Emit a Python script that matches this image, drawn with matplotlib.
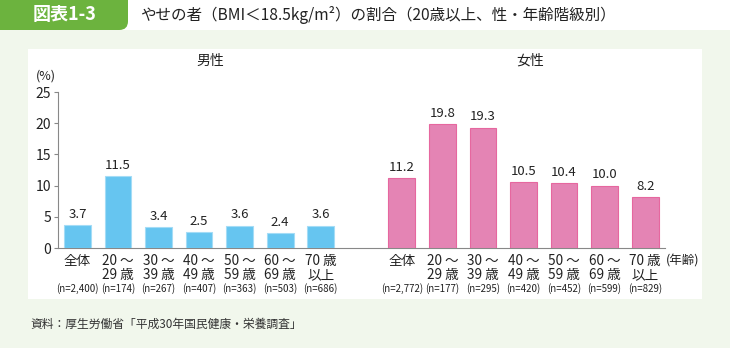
import matplotlib
matplotlib.use("Agg")
import matplotlib.pyplot as plt
from matplotlib.patches import Rectangle, FancyBboxPatch

plt.rcParams['font.family'] = ['Noto Sans CJK JP', 'DejaVu Sans']

categories_l1 = ["全体", "20 ～", "30 ～", "40 ～", "50 ～", "60 ～", "70 歳"]
categories_l2 = ["", "29 歳", "39 歳", "49 歳", "59 歳", "69 歳", "以上"]
male_n = ["(n=2,400)", "(n=174)", "(n=267)", "(n=407)", "(n=363)", "(n=503)", "(n=686)"]
female_n = ["(n=2,772)", "(n=177)", "(n=295)", "(n=420)", "(n=452)", "(n=599)", "(n=829)"]
male_values = [3.7, 11.5, 3.4, 2.5, 3.6, 2.4, 3.6]
female_values = [11.2, 19.8, 19.3, 10.5, 10.4, 10.0, 8.2]
yticks = [0, 5, 10, 15, 20, 25]

W, H = 730, 348
fig = plt.figure(figsize=(W / 100, H / 100), dpi=100)
fig.patch.set_facecolor('#f1f7ec')

def fx(px):
    return px / W

def fy(py):
    return 1 - py / H

# top white strip
fig.patches.append(Rectangle((0, fy(30)), 1, 30 / H, transform=fig.transFigure,
                             facecolor='white', edgecolor='none', zorder=0))
# green tab
fig.patches.append(FancyBboxPatch((fx(-10), fy(30)), fx(138), 30 / H * 1.4,
                                  boxstyle="round,pad=0,rounding_size=0.012",
                                  transform=fig.transFigure, facecolor='#6cb33e',
                                  edgecolor='none', zorder=1, mutation_aspect=W / H))
# cover bottom part of tab rounding below strip
fig.patches.append(Rectangle((0, fy(48)), 1, 18 / H, transform=fig.transFigure,
                             facecolor='#f1f7ec', edgecolor='none', zorder=2))
# white panel
fig.patches.append(Rectangle((fx(28), fy(299)), fx(674), 250 / H, transform=fig.transFigure,
                             facecolor='white', edgecolor='none', zorder=2))

fig.text(fx(65), fy(15), "図表1-3", color='white', fontsize=13, fontweight='bold',
         ha='center', va='center', zorder=5)
fig.text(fx(140), fy(15), "やせの者（BMI＜18.5kg/m²）の割合（20歳以上、性・年齢階級別）",
         color='#222222', fontsize=11.2, ha='left', va='center', zorder=5)
fig.text(fx(30), fy(324), "資料：厚生労働省「平成30年国民健康・栄養調査」",
         color='#333333', fontsize=8.5, ha='left', va='center', zorder=5)

ax = fig.add_axes([fx(58), fy(248), fx(665 - 58), (248 - 92) / H])
ax.set_facecolor('none')
ax.set_zorder(3)

male_x = list(range(7))
female_x = [i + 8 for i in range(7)]

ax.bar(male_x, male_values, width=0.66, color='#66c5f0', edgecolor='#a4dcf6', linewidth=0.8, zorder=3)
ax.bar(female_x, female_values, width=0.66, color='#e484b4', edgecolor='#e6679f', linewidth=0.8, zorder=3)

for x, v in zip(male_x, male_values):
    ax.annotate(f"{v:.1f}", (x, v), xytext=(0, 3), textcoords='offset points',
                ha='center', va='bottom', fontsize=9.5, color='#222222')
for x, v in zip(female_x, female_values):
    ax.annotate(f"{v:.1f}", (x, v), xytext=(0, 3), textcoords='offset points',
                ha='center', va='bottom', fontsize=9.5, color='#222222')

ax.set_xlim(-0.48, 14.49)
ax.set_ylim(0, 25)
ax.set_yticks(yticks)
ax.set_yticklabels([str(t) for t in yticks], fontsize=10, color='#222222')
ax.set_xticks([])
for s in ['top', 'right']:
    ax.spines[s].set_visible(False)
ax.spines['left'].set_color('#888888')
ax.spines['bottom'].set_color('#888888')
ax.spines['left'].set_linewidth(0.8)
ax.spines['bottom'].set_linewidth(0.8)
ax.tick_params(axis='y', direction='out', length=3, width=0.8, color='#888888', pad=2)

tr = ax.get_xaxis_transform()
for xs, ns in ((male_x, male_n), (female_x, female_n)):
    for x, l1, l2, n in zip(xs, categories_l1, categories_l2, ns):
        ax.text(x, -0.083, l1, transform=tr, ha='center', va='center', fontsize=9.8, color='#222222')
        if l2:
            ax.text(x, -0.173, l2, transform=tr, ha='center', va='center', fontsize=9.8, color='#222222')
        ax.text(x, -0.263, n, transform=tr, ha='center', va='center', fontsize=7, color='#222222')

ax.text(14.52, -0.083, "(年齢)", transform=tr, ha='left', va='center', fontsize=9, color='#222222')

fig.text(fx(210), fy(61), "男性", fontsize=10, ha='center', va='center', color='#222222', zorder=5)
fig.text(fx(530), fy(61), "女性", fontsize=10, ha='center', va='center', color='#222222', zorder=5)
fig.text(fx(46), fy(76), "(%)", fontsize=9, ha='center', va='center', color='#222222', zorder=5)

fig.savefig("out.png", dpi=100, facecolor=fig.get_facecolor())
